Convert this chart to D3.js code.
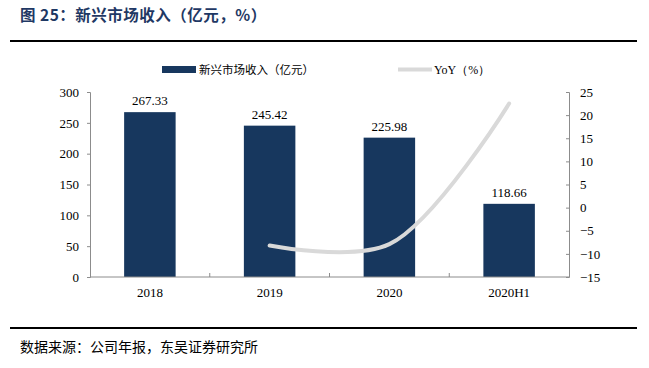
<!DOCTYPE html>
<html>
<head>
<meta charset="utf-8">
<script src="https://cdn.jsdelivr.net/npm/d3@7/dist/d3.min.js"></script>
<style>
  body { margin: 0; background: #fff; }
  svg text { font-family: "Liberation Serif", "Times New Roman", serif; }
  .cjk { font-family: "Noto Sans CJK SC", sans-serif; }
</style>
</head>
<body>
<div id="chart"></div>
<script>
// Datos
const categories = ['2018', '2019', '2020', '2020H1'];
const revenue = [267.33, 245.42, 225.98, 118.66];
const yoyCats = ['2019', '2020', '2020H1'];
const yoy = [-8.2, -7.9, 22.5];
const leftTicks = [0, 50, 100, 150, 200, 250, 300];
const rightTicks = [-15, -10, -5, 0, 5, 10, 15, 20, 25];

const W = 649, H = 368;
const plot = { left: 90, right: 569, top: 92, bottom: 277 };
const barColor = '#17375e';

const svg = d3.select('#chart').append('svg')
    .attr('width', W)
    .attr('height', H);

// Título
svg.append('text')
    .attr('x', 20).attr('y', 21)
    .attr('class', 'cjk')
    .style('font-size', '15.5px')
    .style('font-weight', 'bold')
    .style('letter-spacing', '0.5px')
    .style('fill', '#1f3864')
    .text('图 25：新兴市场收入（亿元，%）');

svg.append('line')
    .attr('x1', 10).attr('x2', 637)
    .attr('y1', 41).attr('y2', 41)
    .style('stroke', '#000').style('stroke-width', 2);

svg.append('line')
    .attr('x1', 10).attr('x2', 637)
    .attr('y1', 328).attr('y2', 328)
    .style('stroke', '#000').style('stroke-width', 2);

svg.append('text')
    .attr('x', 20).attr('y', 352)
    .attr('class', 'cjk')
    .style('font-size', '14px')
    .style('fill', '#000')
    .text('数据来源：公司年报，东吴证券研究所');

// Escalas
const x = d3.scaleBand()
    .domain(categories)
    .range([plot.left, plot.right])
    .paddingInner(0.57)
    .paddingOuter(0.285);

const xc = d => x(d) + x.bandwidth() / 2;

const y = d3.scaleLinear()
    .domain([0, 300])
    .range([plot.bottom, plot.top]);

const y2 = d3.scaleLinear()
    .domain([-15, 25])
    .range([plot.bottom, plot.top]);

// Barras
svg.selectAll('.bar')
    .data(categories)
    .enter().append('rect')
    .attr('class', 'bar')
    .attr('x', d => x(d))
    .attr('width', x.bandwidth())
    .attr('y', (d, i) => y(revenue[i]))
    .attr('height', (d, i) => y(0) - y(revenue[i]))
    .style('fill', barColor);

svg.selectAll('.bar-label')
    .data(categories)
    .enter().append('text')
    .attr('class', 'bar-label')
    .attr('x', d => xc(d))
    .attr('y', (d, i) => y(revenue[i]) - 7)
    .attr('text-anchor', 'middle')
    .style('font-size', '13px')
    .style('fill', '#000')
    .text((d, i) => revenue[i].toFixed(2));

// Línea YoY
const line = d3.line()
    .x(d => xc(d))
    .y((d, i) => y2(yoy[i]))
    .curve(d3.curveCatmullRom.alpha(0.5));

svg.append('path')
    .datum(yoyCats)
    .attr('d', line)
    .style('fill', 'none')
    .style('stroke', '#d9d9d9')
    .style('stroke-width', 4)
    .style('stroke-linecap', 'round');

// Ejes
const axisColor = '#8c8c8c';

const gl = svg.append('g')
    .attr('transform', `translate(${plot.left},0)`)
    .call(d3.axisLeft(y).tickValues(leftTicks).tickSize(3).tickPadding(8));

const gr = svg.append('g')
    .attr('transform', `translate(${plot.right},0)`)
    .call(d3.axisRight(y2).tickValues(rightTicks).tickSize(-3).tickPadding(11));

const gb = svg.append('g')
    .attr('transform', `translate(0,${plot.bottom})`)
    .call(d3.axisBottom(x).tickSize(0).tickPadding(11));

// separadores de categoría
const seps = categories.slice(1).map(d => x(d) - x.step() * x.paddingInner() / 2);
gb.selectAll('.sep')
    .data(seps)
    .enter().append('line')
    .attr('class', 'sep')
    .attr('x1', d => d).attr('x2', d => d)
    .attr('y1', 0).attr('y2', -4)
    .style('stroke', axisColor);

[gl, gr, gb].forEach(g => {
    g.selectAll('.domain').style('stroke', axisColor);
    g.selectAll('.tick line').style('stroke', axisColor);
    g.selectAll('text')
        .style('font-family', '"Liberation Serif", "Times New Roman", serif')
        .style('font-size', '13px')
        .style('fill', '#000');
});
gb.select('.domain').attr('d', `M${plot.left},0H${plot.right}`);

// Leyenda
svg.append('rect')
    .attr('x', 162).attr('y', 66)
    .attr('width', 34).attr('height', 7)
    .style('fill', barColor);

svg.append('text')
    .attr('x', 199).attr('y', 74)
    .attr('class', 'cjk')
    .style('font-size', '11.5px')
    .style('fill', '#000')
    .text('新兴市场收入（亿元）');

svg.append('line')
    .attr('x1', 398).attr('x2', 432)
    .attr('y1', 69.5).attr('y2', 69.5)
    .style('stroke', '#d9d9d9')
    .style('stroke-width', 4);

svg.append('text')
    .attr('x', 434).attr('y', 74)
    .style('font-size', '12px')
    .style('fill', '#000')
    .text('YoY（%）');
</script>
</body>
</html>
